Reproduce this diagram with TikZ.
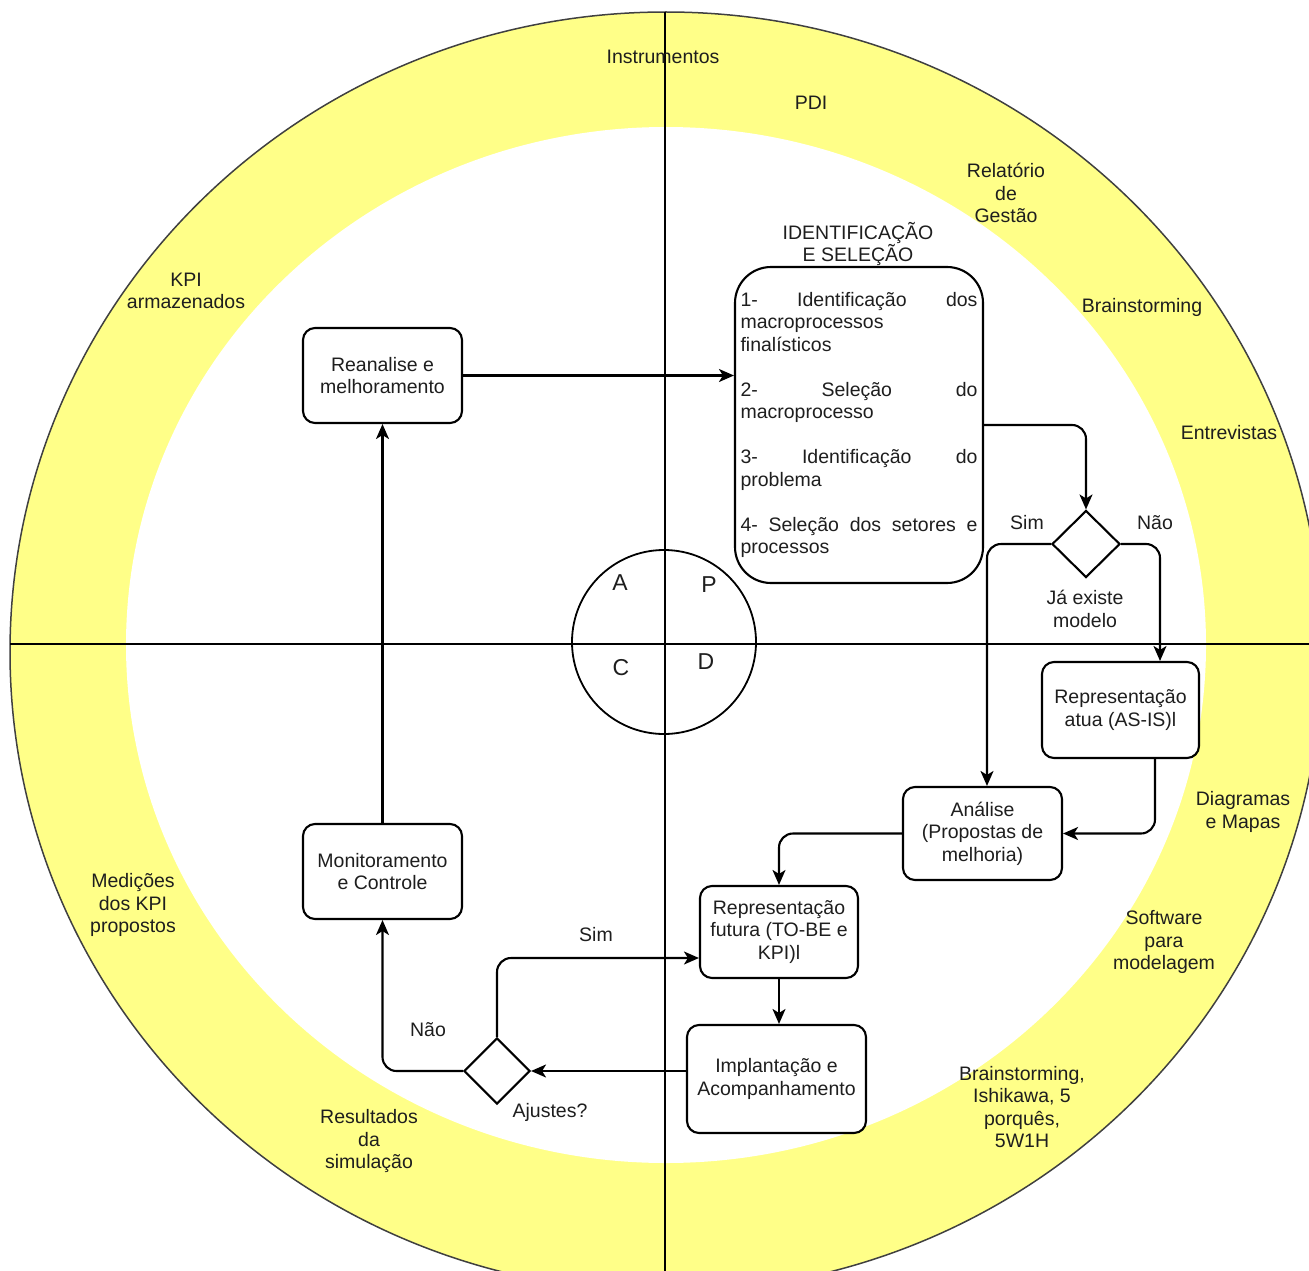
\documentclass[tikz,border=0pt]{standalone}
\usepackage{fontspec}
\setmainfont{Liberation Sans}
\usetikzlibrary{arrows.meta,shapes.geometric}
\definecolor{ring}{RGB}{255,255,136}
\definecolor{txt}{RGB}{30,30,30}
\newcommand{\jline}[1]{\leavevmode\hbox to 237pt{#1}}
\begin{document}
\begin{tikzpicture}[x=1pt,y=-1pt,
  every node/.style={font=\fontsize{19.5}{22.5}\selectfont, text=txt},
  box/.style={draw=black, line width=2.1pt, rounded corners=12pt, fill=white, align=center, inner sep=0pt},
  dec/.style={draw=black, diamond, line width=2.1pt, fill=white, minimum width=68pt, minimum height=67pt, inner sep=0pt},
  arr/.style={draw=black, line width=2.1pt, -{Stealth[length=15pt,width=13pt,inset=4pt]}, rounded corners=14pt},
  lbl/.style={align=center, inner sep=0pt},
  axis/.style={draw=black, line width=1.8pt},
  big/.style={font=\fontsize{23}{26}\selectfont, inner sep=0pt}
]
\useasboundingbox (0,0) rectangle (1309,1271);
% ring
\begin{scope}
\clip (0,0) rectangle (1309,1271);
\filldraw[fill=ring, draw=black!75, line width=1.5pt] (666,652) ellipse [x radius=656, y radius=640];
\end{scope}
\fill[white] (666,645) ellipse [x radius=540, y radius=518];
% axes
\coordinate (hl) at (10,644);
\coordinate (hr) at (1309,644);
\coordinate (vt) at (665,12);
\coordinate (vb) at (665,1271);
\draw[axis] (hl) -- (hr);
\draw[axis] (vt) -- (vb);
% PDCA circle
\coordinate (pdca) at (664,642);
\draw[axis] (pdca) circle [radius=92];
\node[big] (la) at (620,583) {A};
\node[big] (lp) at (709,585) {P};
\node[big] (lc) at (621,668) {C};
\node[big] (ld) at (706,662) {D};
% boxes
\node[box, minimum width=159pt, minimum height=95pt] (rean) at (382.5,375.5) {Reanalise e\\melhoramento};
\node[box, minimum width=159pt, minimum height=95pt] (monit) at (382.5,871.5) {Monitoramento\\e Controle};
\node[box, rounded corners=36pt, minimum width=248pt, minimum height=316pt, text width=237pt, inner xsep=5.5pt, align=left] (ident) at (859,425) {%
\jline{1-\hfill Identificação\hfill dos}\\
macroprocessos\\
finalísticos\\
\mbox{}\\
\jline{2-\hfill Seleção\hfill do}\\
macroprocesso\\
\mbox{}\\
\jline{3-\hfill Identificação\hfill do}\\
problema\\
\mbox{}\\
\jline{4-\hfill Seleção\hfill dos\hfill setores\hfill e}\\
processos};
\node[lbl] (identt) at (858,244) {IDENTIFICAÇÃO\\E SELEÇÃO};
\node[dec] (exist) at (1086,544) {};
\node[box, minimum width=157pt, minimum height=96pt] (asis) at (1120.5,710) {Representação\\atua (AS-IS)l};
\node[box, minimum width=159pt, minimum height=93pt] (analise) at (982.5,833.5) {Análise\\(Propostas de\\melhoria)};
\node[box, minimum width=158pt, minimum height=92pt] (futura) at (779,932) {Representação\\futura (TO-BE e\\KPI)l};
\node[box, minimum width=179pt, minimum height=108pt] (impl) at (776.5,1079) {Implantação e\\Acompanhamento};
\node[dec, minimum width=66pt, minimum height=66pt] (ajuste) at (497,1071) {};
% connectors
\draw[arr] (rean.east) -- (rean.east -| ident.west);
\draw[arr] (ident.east) -| (exist.north);
\draw[arr] (exist.west) -| ([xshift=4.5pt]analise.north);
\draw[arr] (exist.east) -| ([xshift=39.5pt]asis.north);
\draw[arr] ([xshift=34.5pt]asis.south) |- (analise.east);
\draw[arr] (analise.west) -| (futura.north);
\draw[arr] (futura.south) -- (futura.south |- impl.north);
\draw[arr] (impl.west |- ajuste.east) -- (ajuste.east);
\draw[arr] (ajuste.west) -| (monit.south);
\draw[arr] (ajuste.north) |- ([yshift=-26pt]futura.west);
\draw[arr] (monit.north) -- (rean.south);
% connector labels
\node[lbl] (sim1) at (1027,523) {Sim};
\node[lbl] (nao1) at (1155,523) {Não};
\node[lbl] (jaex) at (1085,609) {Já existe\\modelo};
\node[lbl] (sim2) at (596,935) {Sim};
\node[lbl] (nao2) at (428,1030) {Não};
\node[lbl] (ajl) at (550,1112) {Ajustes?};
% ring labels
\node[lbl] (r1) at (663,57) {Instrumentos};
\node[lbl] (r2) at (811,103) {PDI};
\node[lbl] (r3) at (1006,193) {Relatório\\de\\Gestão};
\node[lbl] (r4) at (1142,307) {Brainstorming};
\node[lbl] (r5) at (1229,433) {Entrevistas};
\node[lbl] (r6) at (1243,812) {Diagramas\\e Mapas};
\node[lbl] (r7) at (1164,942) {Software\\para\\modelagem};
\node[lbl] (r8) at (1022,1107) {Brainstorming,\\Ishikawa, 5\\porquês,\\5W1H};
\node[lbl] (r9) at (369,1141) {Resultados\\da\\simulação};
\node[lbl] (r10) at (133,905) {Medições\\dos KPI\\propostos};
\node[lbl] (r11) at (186,291) {KPI\\armazenados};
\end{tikzpicture}
\end{document}
